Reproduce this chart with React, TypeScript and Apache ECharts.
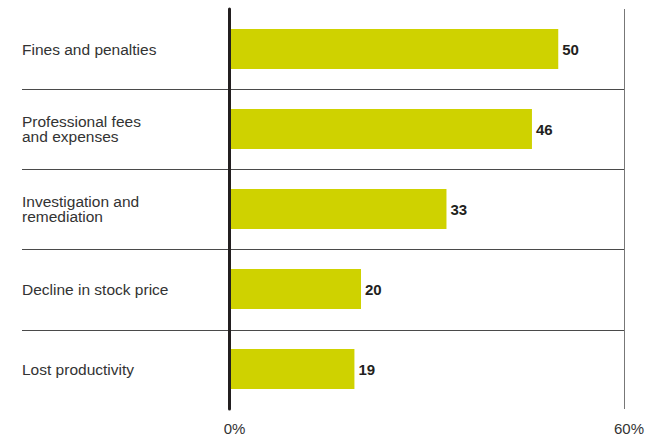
import React, { useEffect, useRef } from "react";
import * as echarts from "echarts";

const categories = [
  "Fines and penalties",
  "Professional fees\nand expenses",
  "Investigation and\nremediation",
  "Decline in stock price",
  "Lost productivity",
];
const values = [50, 46, 33, 20, 19];
const axisMin = 0;
const axisMax = 60;
const tickLabels: Record<number, string> = { 0: "0%", 60: "60%" };

export default function App() {
  const ref = useRef<HTMLDivElement>(null);
  useEffect(() => {
    document.body.style.margin = "0";
    const chart = echarts.init(ref.current!, null, { renderer: "svg" });
    const font = "'Liberation Sans', Arial, Helvetica, sans-serif";
    const grid = { top: 9, bottom: 26, right: 31 };
    chart.setOption({
      animation: false,
      grid: [
        { ...grid, left: 229.5 },
        { ...grid, left: 22 },
      ],
      xAxis: [
        {
          type: "value",
          gridIndex: 0,
          min: axisMin,
          max: axisMax,
          interval: 60,
          axisLine: { show: false },
          axisTick: { show: false },
          splitLine: { show: true, lineStyle: { color: "#777", width: 1 } },
          axisLabel: {
            formatter: (v: number) => tickLabels[v] ?? "",
            color: "#333",
            fontSize: 15,
            fontFamily: font,
            margin: 12,
            padding: [0, 0, 0, 10],
          },
        },
        { type: "value", gridIndex: 1, show: false, min: 0, max: 1 },
      ],
      yAxis: [
        {
          type: "category",
          gridIndex: 0,
          data: categories,
          inverse: true,
          axisLine: { show: true, lineStyle: { color: "#231f20", width: 3 } },
          axisTick: { show: false },
          splitLine: { show: false },
          axisLabel: {
            align: "left",
            margin: 207.5,
            color: "#333",
            fontSize: 15.5,
            lineHeight: 15.5,
            fontFamily: font,
          },
          z: 5,
        },
        {
          type: "category",
          gridIndex: 1,
          data: categories,
          inverse: true,
          axisLine: { show: false },
          axisTick: { show: false },
          axisLabel: { show: false },
          splitLine: {
            show: true,
            showMinLine: false,
            showMaxLine: false,
            lineStyle: { color: "#4a4a4a", width: 1 },
          },
        },
      ],
      series: [
        {
          type: "bar",
          xAxisIndex: 0,
          yAxisIndex: 0,
          data: values,
          barWidth: 40,
          itemStyle: { color: "#cfd200" },
          label: {
            show: true,
            position: "right",
            distance: 4,
            color: "#231f20",
            fontSize: 15,
            fontWeight: "bold",
            fontFamily: font,
          },
        },
      ],
    });
    return () => chart.dispose();
  }, []);
  return (
    <div
      ref={ref}
      style={{ position: "absolute", left: 0, top: 0, width: 655, height: 436, background: "#fff" }}
    />
  );
}
